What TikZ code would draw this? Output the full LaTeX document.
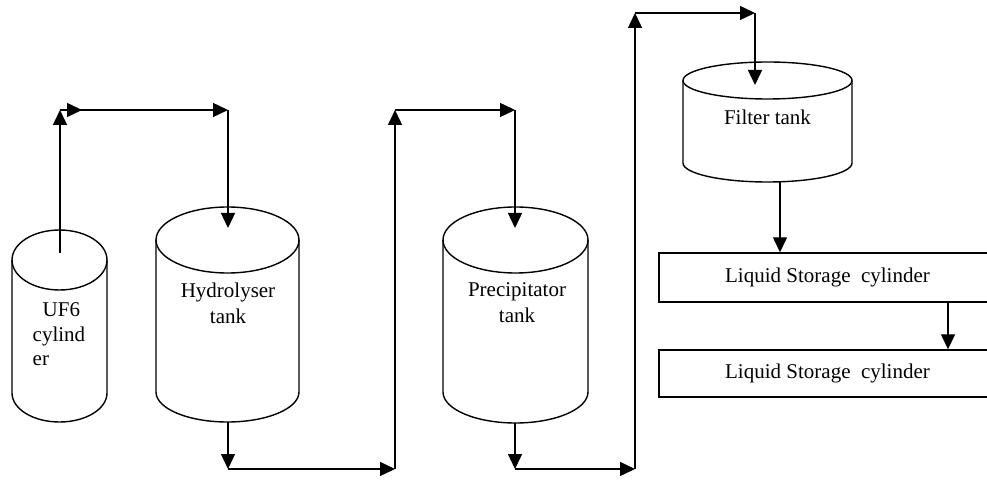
\documentclass[tikz,border=0pt]{standalone}
\usepackage{fontspec}
\setmainfont{Liberation Serif}
\usetikzlibrary{arrows.meta, decorations.markings}

\begin{document}
\begin{tikzpicture}[%
        x = 1pt, y = 1pt,
        line width = 1.4pt,
        > = {Triangle[length = 15pt, width = 14pt]},
        ->-/.style = {
            decoration = {
                markings,
                mark = at position #1 with \arrow{>}
            },
            postaction = {decorate}
        },
        tanktext/.style = {inner sep = 0pt, align = center, font = \fontsize{21}{26}\selectfont},
        storage/.style = {draw, minimum width = 337pt, inner sep = 0pt, font = \fontsize{21}{26}\selectfont}
    ]

        % Fix the frame of the picture.
        \useasboundingbox (0, 0) rectangle (987, 479);
        \clip (0, 0) rectangle (987, 479);

        % UF6 cylinder.
        \draw (59.5, 219) ellipse [x radius = 47.5, y radius = 30];
        \draw (12, 219) -- (12, 86) arc [start angle = 180, end angle = 360, x radius = 47.5, y radius = 29] -- (107, 219);
        \node[tanktext, align = left, anchor = north west, font = \fontsize{21}{24.5}\selectfont] (uf6 text) at (32, 177) {\hspace*{10pt}UF6\\cylind\\er};

        % Hydrolyser tank.
        \draw (227.5, 239) ellipse [x radius = 71.5, y radius = 33];
        \draw (156, 239) -- (156, 87) arc [start angle = 180, end angle = 360, x radius = 71.5, y radius = 30] -- (299, 239);
        \node[tanktext, anchor = north] (hyd text) at (228, 197) {Hydrolyser\\tank};

        % Precipitator tank.
        \draw (515.5, 239) ellipse [x radius = 72.5, y radius = 33];
        \draw (443, 239) -- (443, 87) arc [start angle = 180, end angle = 360, x radius = 72.5, y radius = 31] -- (588, 239);
        \node[tanktext, anchor = north] (pre text) at (517, 197) {Precipitator\\tank};

        % Filter tank.
        \draw (767.5, 398.5) ellipse [x radius = 84.5, y radius = 18.5];
        \draw (683, 398.5) -- (683, 316) arc [start angle = 180, end angle = 360, x radius = 84.5, y radius = 19] -- (852, 398.5);
        \node[tanktext, anchor = base] (fil text) at (767.5, 354) {Filter tank};

        % The two liquid storage cylinders.
        \node[storage, minimum height = 49pt] (store1) at (827.5, 201.5) {Liquid Storage~ cylinder};
        \node[storage, minimum height = 47pt] (store2) at (827.5, 105.5) {Liquid Storage~ cylinder};

        % Inlets, outlets and corners of the pipes.
        \coordinate (uf6 out) at (60, 226);
        \coordinate (hyd in) at (228, 251);
        \coordinate (hyd out) at (228, 57);
        \coordinate (pre in) at (515, 251);
        \coordinate (pre out) at (515, 56);
        \coordinate (fil in) at (755, 394);
        \coordinate (fil out) at (780, 297);
        \coordinate (drop) at (948, 0);
        \coordinate (c1) at (60, 369);
        \coordinate (c2) at (228, 369);
        \coordinate (c3) at (228, 10);
        \coordinate (c4) at (395, 10);
        \coordinate (c5) at (395, 369);
        \coordinate (c6) at (515, 369);
        \coordinate (c7) at (515, 10);
        \coordinate (c8) at (635, 10);
        \coordinate (c9) at (635, 466);
        \coordinate (c10) at (755, 466);

        % From the UF6 cylinder to the hydrolyser.
        \draw[->] (uf6 out) to (c1);
        \draw[->, ->-=22pt] (c1) to (c2);
        \draw[->] (c2) to (hyd in);

        % From the hydrolyser to the precipitator.
        \draw[->] (hyd out) to (c3);
        \draw[->] (c3) to (c4);
        \draw[->] (c4) to (c5);
        \draw[->] (c5) to (c6);
        \draw[->] (c6) to (pre in);

        % From the precipitator to the filter.
        \draw[->] (pre out) to (c7);
        \draw[->] (c7) to (c8);
        \draw[->] (c8) to (c9);
        \draw[->] (c9) to (c10);
        \draw[->] (c10) to (fil in);

        % From the filter down to the storage.
        \draw[->] (fil out) to (fil out |- store1.north);
        \draw[->] (store1.south -| drop) to (store2.north -| drop);
    \end{tikzpicture}
\end{document}
